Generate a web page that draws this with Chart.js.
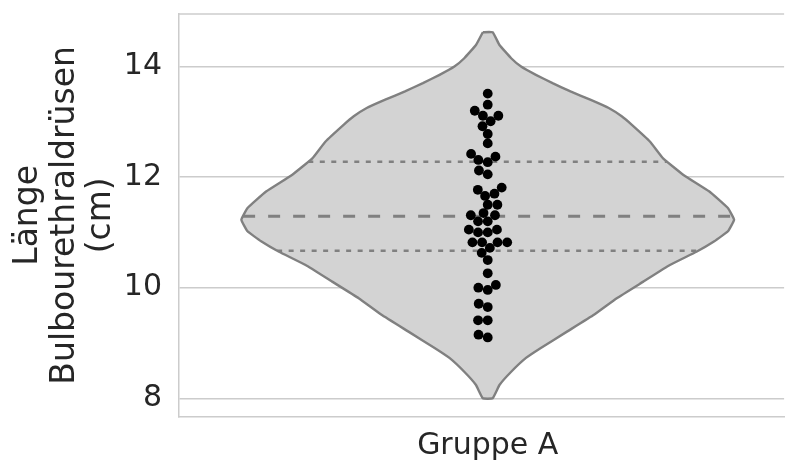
<!DOCTYPE html>
<html lang="de">
<head>
<meta charset="UTF-8">
<title>Violinplot Bulbourethraldrüsen</title>
<script src="https://cdn.jsdelivr.net/npm/chart.js"></script>
<style>
  body { margin: 0; background: #fff; }
  .chart-container { width: 789px; height: 461px; position: relative; }
</style>
</head>
<body>
<div class="chart-container"><canvas id="violin-chart"></canvas></div>
<script>
// data block
const category = 'Gruppe A';
const yTicks = [8, 10, 12, 14];

const lengths = [13.51, 13.31, 13.20, 13.11, 13.11, 13.01, 12.92, 12.78, 12.61, 12.42,
                 12.37, 12.31, 12.27, 12.12, 12.05, 11.81, 11.77, 11.70, 11.66, 11.50,
                 11.50, 11.35, 11.31, 11.31, 11.20, 11.20, 11.05, 11.05, 11.00, 11.00,
                 10.82, 10.82, 10.82, 10.82, 10.72, 10.63, 10.50, 10.26, 10.05, 10.00,
                 9.96, 9.71, 9.65, 9.41, 9.41, 9.15, 9.10];

// violin outline: value and half width of the density (category units)
const violinY = [14.62, 14.39, 14.15, 14.00, 13.85, 13.70, 13.55, 13.40, 13.25, 13.10,
                 12.95, 12.64, 12.34, 12.04, 11.74, 11.44, 11.23, 11.02, 10.84, 10.65,
                 10.41, 10.11, 9.81, 9.51, 9.21, 8.91, 8.73, 8.48, 8.24, 8.00];
const violinHalfWidth = [0.008, 0.019, 0.038, 0.054, 0.078, 0.105, 0.134, 0.166, 0.196, 0.217,
                         0.233, 0.263, 0.284, 0.317, 0.359, 0.389, 0.399, 0.389, 0.367, 0.338,
                         0.295, 0.252, 0.209, 0.172, 0.129, 0.086, 0.062, 0.038, 0.019, 0.008];

// lower quartile, median, upper quartile
const quartiles = [10.67, 11.29, 12.28];

// helpers
function halfWidthAt(v) {
  for (let i = 0; i < violinY.length - 1; i++) {
    const a = violinY[i], b = violinY[i + 1];
    if (v <= a && v >= b) {
      const t = (a - v) / (a - b);
      return violinHalfWidth[i] + t * (violinHalfWidth[i + 1] - violinHalfWidth[i]);
    }
  }
  return 0;
}

const outline = [];
violinY.forEach((v, i) => outline.push({x: -violinHalfWidth[i], y: v}));
for (let i = violinY.length - 1; i >= 0; i--) outline.push({x: violinHalfWidth[i], y: violinY[i]});
outline.push(outline[0]);

function quartLine(v) {
  const w = halfWidthAt(v);
  return [{x: -w, y: v}, {x: w, y: v}];
}

const grey = '#808080';
const textColor = '#262626';
const gridColor = '#cccccc';
const dotDiameter = 9.2;

// top spine plugin
const topSpine = {
  id: 'topSpine',
  beforeDatasetsDraw(chart) {
    const {ctx, chartArea: {top, left, right}} = chart;
    ctx.save();
    ctx.strokeStyle = gridColor;
    ctx.lineWidth = 1.5;
    ctx.beginPath();
    ctx.moveTo(left, top);
    ctx.lineTo(right, top);
    ctx.stroke();
    ctx.restore();
  }
};

const config = {
  type: 'scatter',
  data: {
    datasets: [
      {
        label: 'Punkte',
        data: lengths.map(v => ({x: 0, y: v})),
        pointRadius: 4.9,
        pointBackgroundColor: '#000000',
        pointBorderWidth: 0,
        order: 0
      },
      {
        label: 'Q1',
        data: quartLine(quartiles[0]),
        showLine: true,
        borderColor: grey,
        borderWidth: 2.5,
        borderDash: [5, 6.5],
        pointRadius: 0,
        order: 1
      },
      {
        label: 'Median',
        data: quartLine(quartiles[1]),
        showLine: true,
        borderColor: grey,
        borderWidth: 3,
        borderDash: [12, 13],
        pointRadius: 0,
        order: 1
      },
      {
        label: 'Q3',
        data: quartLine(quartiles[2]),
        showLine: true,
        borderColor: grey,
        borderWidth: 2.5,
        borderDash: [5, 6.5],
        pointRadius: 0,
        order: 1
      },
      {
        label: 'Violine',
        data: outline,
        showLine: true,
        fill: 'shape',
        backgroundColor: '#d3d3d3',
        borderColor: grey,
        borderWidth: 2.4,
        tension: 0.1,
        pointRadius: 0,
        order: 2
      }
    ]
  },
  options: {
    responsive: true,
    maintainAspectRatio: false,
    animation: false,
    layout: { padding: { top: 14, right: 0, bottom: 0, left: 0 } },
    plugins: {
      legend: { display: false },
      tooltip: { enabled: false }
    },
    scales: {
      x: {
        type: 'linear',
        min: -0.5,
        max: 0.48,
        afterBuildTicks(scale) { scale.ticks = [{value: 0}]; },
        afterFit(scale) {
          scale.height = 44.3;
          scale.paddingLeft = 0;
          scale.paddingRight = 0;
        },
        ticks: {
          callback: () => category,
          color: textColor,
          padding: 12,
          font: { family: 'DejaVu Sans', size: 30 }
        },
        grid: { display: false, drawTicks: false },
        border: { display: true, color: gridColor, width: 1.5 }
      },
      y: {
        min: 7.667,
        max: 14.95,
        afterBuildTicks(scale) { scale.ticks = yTicks.map(v => ({value: v})); },
        afterFit(scale) {
          scale.width = 179;
          scale.paddingTop = 0;
          scale.paddingBottom = 0;
        },
        ticks: {
          color: textColor,
          padding: 17,
          font: { family: 'DejaVu Sans', size: 30 }
        },
        grid: { color: gridColor, lineWidth: 1.5, drawTicks: false },
        border: { display: true, color: gridColor, width: 1.5 },
        title: {
          display: true,
          text: ['Länge', 'Bulbourethraldrüsen', '(cm)'],
          color: textColor,
          padding: { top: 10, bottom: 0 },
          font: { family: 'DejaVu Sans', size: 33, lineHeight: 1.11 }
        }
      }
    }
  },
  plugins: [topSpine]
};

const chart = new Chart(document.getElementById('violin-chart'), config);

// beeswarm: place points from low to high, nearest free spot to the centre
function swarm(chart) {
  const ys = chart.scales.y, xs = chart.scales.x;
  const unit = xs.getPixelForValue(1) - xs.getPixelForValue(0);
  const d = dotDiameter;
  const order = lengths.map((v, i) => i).sort((a, b) => lengths[a] - lengths[b]);
  const placed = [];
  const out = new Array(lengths.length);
  for (const i of order) {
    const y = ys.getPixelForValue(lengths[i]);
    const nb = placed.filter(p => Math.abs(p.y - y) < d);
    const cands = [0];
    let leftFirst = true;
    for (const p of nb) {
      const dx = Math.sqrt(Math.max(d * d - (y - p.y) ** 2, 0)) * 1.05;
      const l = p.x - dx, r = p.x + dx;
      if (leftFirst) cands.push(l, r); else cands.push(r, l);
      leftFirst = !leftFirst;
    }
    cands.sort((a, b) => Math.abs(a) - Math.abs(b));
    const x = cands.find(c => nb.every(p => (c - p.x) ** 2 + (y - p.y) ** 2 >= d * d - 1e-6));
    placed.push({x: x, y: y});
    out[i] = {x: x / unit, y: lengths[i]};
  }
  return out;
}

chart.data.datasets[0].data = swarm(chart);
chart.update('none');
</script>
</body>
</html>
